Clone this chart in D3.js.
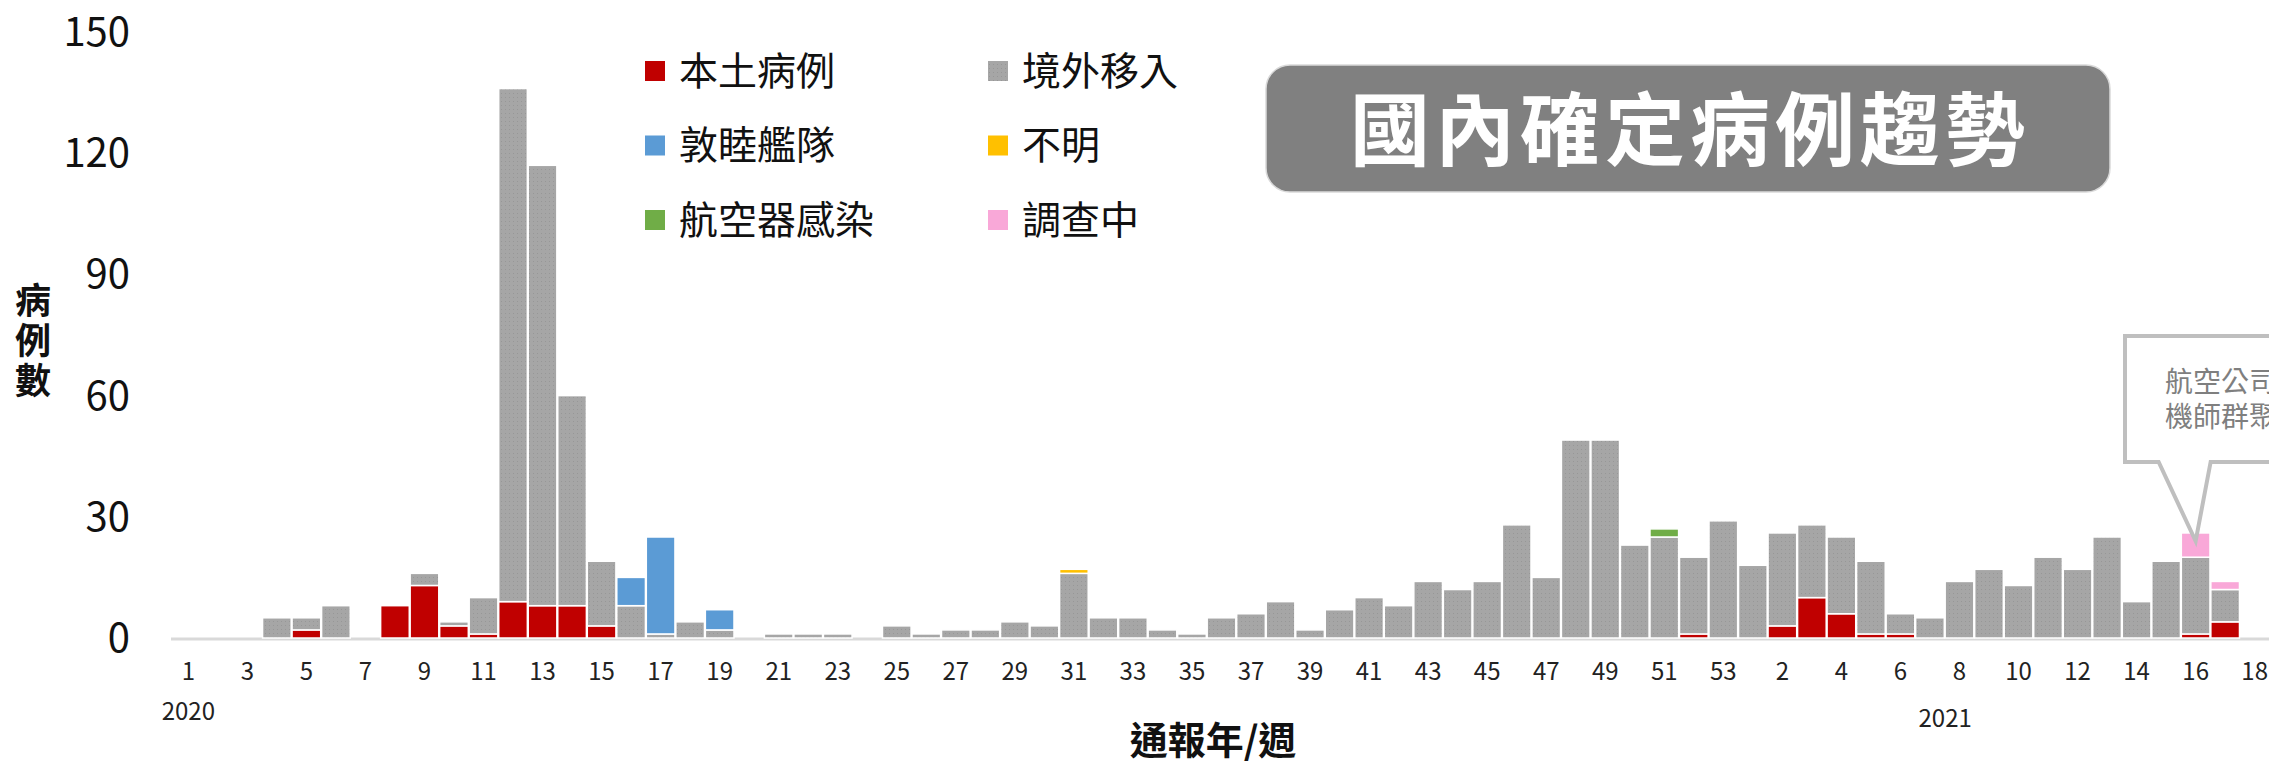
<!DOCTYPE html>
<html lang="zh-Hant">
<head>
<meta charset="UTF-8">
<title>國內確定病例趨勢</title>
<script src="https://d3js.org/d3.v7.min.js"></script>
<style>
  body { margin: 0; background: #fff; }
  svg { display: block; font-family: "Noto Sans CJK TC", "Noto Sans", sans-serif; }
  .tick-y { font-size: 40px; fill: #111; }
  .tick-x { font-size: 24px; fill: #222; }
  .legend text { font-size: 39px; fill: #111; }
</style>
</head>
<body>
<div id="chart"></div>
<script>
  // 2020 weeks 1-53, then 2021 weeks 1-18
  const years = [2020, 2021];
  const weeksPerYear = [53, 18];

  const local =        [0,0,0,0,2,0,0,8,13,3,1,9,8,8,3,0,0,0,0,0, 0,0,0,0,0,0,0,0,0,0, 0,0,0,0,0,0,0,0,0,0, 0,0,0,0,0,0,0,0,0,0, 0,1,0,
                        0,3,10,6,1,1,0,0,0,0,0,0,0,0,0,1,4,0];
  const imported =     [0,0,0,5,3,8,0,0,3,1,9,127,109,52,16,8,1,4,2,0, 1,1,1,0,3,1,2,2,4,3, 16,5,5,2,1,5,6,9,2,7, 10,8,14,12,14,28,15,49,49,23, 25,19,29,
                        18,23,18,19,18,5,5,14,17,13,20,17,25,9,19,19,8,0];
  const fleet =        [0,0,0,0,0,0,0,0,0,0,0,0,0,0,0,7,24,0,5,0, 0,0,0,0,0,0,0,0,0,0, 0,0,0,0,0,0,0,0,0,0, 0,0,0,0,0,0,0,0,0,0, 0,0,0,
                        0,0,0,0,0,0,0,0,0,0,0,0,0,0,0,0,0,0];
  const unknown =      [0,0,0,0,0,0,0,0,0,0,0,0,0,0,0,0,0,0,0,0, 0,0,0,0,0,0,0,0,0,0, 1,0,0,0,0,0,0,0,0,0, 0,0,0,0,0,0,0,0,0,0, 0,0,0,
                        0,0,0,0,0,0,0,0,0,0,0,0,0,0,0,0,0,0];
  const aircraft =     [0,0,0,0,0,0,0,0,0,0,0,0,0,0,0,0,0,0,0,0, 0,0,0,0,0,0,0,0,0,0, 0,0,0,0,0,0,0,0,0,0, 0,0,0,0,0,0,0,0,0,0, 2,0,0,
                        0,0,0,0,0,0,0,0,0,0,0,0,0,0,0,0,0,0];
  const investigating =[0,0,0,0,0,0,0,0,0,0,0,0,0,0,0,0,0,0,0,0, 0,0,0,0,0,0,0,0,0,0, 0,0,0,0,0,0,0,0,0,0, 0,0,0,0,0,0,0,0,0,0, 0,0,0,
                        0,0,0,0,0,0,0,0,0,0,0,0,0,0,0,6,2,0];

  const seriesNames = ["本土病例", "境外移入", "敦睦艦隊", "不明", "航空器感染", "調查中"];
  const seriesKeys = ["local", "imported", "fleet", "unknown", "aircraft", "investigating"];
  const seriesColors = ["#c00000", "url(#dots)", "#5b9bd5", "#ffc000", "#70ad47", "#f9a8d8"];
  const yTicks = [0, 30, 60, 90, 120, 150];

  const title = "國內確定病例趨勢";
  const yTitle = "病例數";
  const xTitle = "通報年/週";
  const note = ["航空公司", "機師群聚"];

  const width = 2269, height = 769;

  // build rows
  const rows = [];
  years.forEach((yr, yi) => {
    for (let w = 1; w <= weeksPerYear[yi]; w++) rows.push({ key: yr + "-" + w, year: yr, week: w });
  });
  rows.forEach((r, i) => {
    r.local = local[i]; r.imported = imported[i]; r.fleet = fleet[i];
    r.unknown = unknown[i]; r.aircraft = aircraft[i]; r.investigating = investigating[i];
  });

  const svg = d3.select("#chart").append("svg")
    .attr("width", width).attr("height", height);

  const defs = svg.append("defs");
  const pat = defs.append("pattern").attr("id", "dots")
    .attr("width", 4).attr("height", 4).attr("patternUnits", "userSpaceOnUse");
  pat.append("rect").attr("width", 4).attr("height", 4).attr("fill", "#a6a6a6");
  pat.append("rect").attr("x", 1).attr("y", 1).attr("width", 1).attr("height", 1).attr("fill", "#979797");

  const x = d3.scaleBand()
    .domain(rows.map(d => d.key))
    .range([174, 2269])
    .paddingInner(0.03);

  const y = d3.scaleLinear().domain([0, 150]).range([638, 32]);

  // axis line
  svg.append("line")
    .attr("x1", 171).attr("x2", width)
    .attr("y1", y(0) + 1).attr("y2", y(0) + 1)
    .attr("stroke", "#d9d9d9").attr("stroke-width", 3);

  // stacked bars
  const stack = d3.stack().keys(seriesKeys);
  const layers = stack(rows);

  svg.append("g").selectAll("g")
    .data(layers)
    .join("g")
    .attr("fill", (d, i) => seriesColors[i])
    .selectAll("rect")
    .data(d => d.filter(s => s[1] - s[0] > 0))
    .join("rect")
    .attr("x", d => x(d.data.key))
    .attr("width", x.bandwidth())
    .attr("y", d => y(d[1]))
    .attr("height", d => y(d[0]) - y(d[1]))
    .attr("stroke", "#fff")
    .attr("stroke-width", 1.5);

  // y tick labels
  svg.append("g").selectAll("text")
    .data(yTicks)
    .join("text")
    .attr("class", "tick-y")
    .attr("x", 130)
    .attr("y", d => y(d))
    .attr("dy", "0.35em")
    .attr("text-anchor", "end")
    .text(d => d);

  // x tick labels, every other week
  svg.append("g").selectAll("text")
    .data(rows.filter((d, i) => i % 2 === 0))
    .join("text")
    .attr("class", "tick-x")
    .attr("x", d => x(d.key) + x.bandwidth() / 2)
    .attr("y", 672)
    .attr("dy", "0.35em")
    .attr("text-anchor", "middle")
    .text(d => d.week);

  // year labels
  svg.append("text").attr("class", "tick-x")
    .attr("x", x("2020-1") + x.bandwidth() / 2).attr("y", 712).attr("dy", "0.35em")
    .attr("text-anchor", "middle").text(years[0]);
  svg.append("text").attr("class", "tick-x")
    .attr("x", x("2021-8")).attr("y", 719).attr("dy", "0.35em")
    .attr("text-anchor", "middle").text(years[1]);

  // axis titles
  svg.append("text")
    .attr("x", 1213).attr("y", 741).attr("dy", "0.35em")
    .attr("text-anchor", "middle")
    .attr("font-size", 38).attr("font-weight", "bold").attr("fill", "#111")
    .text(xTitle);

  svg.append("text")
    .attr("x", 33).attr("y", 282)
    .attr("writing-mode", "vertical-rl")
    .attr("text-orientation", "upright")
    .attr("letter-spacing", 4)
    .attr("font-size", 36).attr("font-weight", "bold").attr("fill", "#111")
    .text(yTitle);

  // legend: two columns, three rows
  const legend = svg.append("g").attr("class", "legend");
  const legendItems = [
    { name: seriesNames[0], color: seriesColors[0], col: 0, row: 0 },
    { name: seriesNames[2], color: seriesColors[2], col: 0, row: 1 },
    { name: seriesNames[4], color: seriesColors[4], col: 0, row: 2 },
    { name: seriesNames[1], color: seriesColors[1], col: 1, row: 0 },
    { name: seriesNames[3], color: seriesColors[3], col: 1, row: 1 },
    { name: seriesNames[5], color: seriesColors[5], col: 1, row: 2 }
  ];
  const lg = legend.selectAll("g").data(legendItems).join("g")
    .attr("transform", d => `translate(${645 + d.col * 343},${71 + d.row * 74.5})`);
  lg.append("rect").attr("x", 0).attr("y", -10).attr("width", 20).attr("height", 20)
    .attr("fill", d => d.color);
  lg.append("text").attr("x", 34).attr("dy", "0.35em").text(d => d.name);

  // title box
  svg.append("rect")
    .attr("x", 1266).attr("y", 65).attr("width", 844).attr("height", 127)
    .attr("rx", 24).attr("fill", "#808080")
    .attr("stroke", "#d9d9d9").attr("stroke-width", 1.5);
  svg.append("text")
    .attr("x", 1690).attr("y", 131).attr("dy", "0.35em")
    .attr("text-anchor", "middle")
    .attr("font-size", 80).attr("font-weight", "bold").attr("fill", "#fff")
    .attr("letter-spacing", 5)
    .text(title);

  // callout pointing to 2021 week 16 (box runs off the right edge, as in the original)
  const target = rows.find(d => d.key === "2021-16");
  const tipX = x(target.key) + x.bandwidth() / 2;
  const tipY = y(target.local + target.imported + target.investigating - 2);
  const bx = 2125, by = 336, bb = 462;
  svg.append("path")
    .attr("d", `M${bx},${by} L${width + 20},${by} L${width + 20},${bb} L${tipX + 15},${bb} L${tipX},${tipY} L${tipX - 37},${bb} L${bx},${bb} Z`)
    .attr("fill", "#fff").attr("stroke", "#bfbfbf").attr("stroke-width", 4);
  const noteText = svg.append("text")
    .attr("font-size", 28).attr("fill", "#7f7f7f");
  noteText.selectAll("tspan")
    .data(note)
    .join("tspan")
    .attr("x", 2165).attr("y", (d, i) => 382 + i * 35).attr("dy", "0.35em")
    .text(d => d);
</script>
</body>
</html>
